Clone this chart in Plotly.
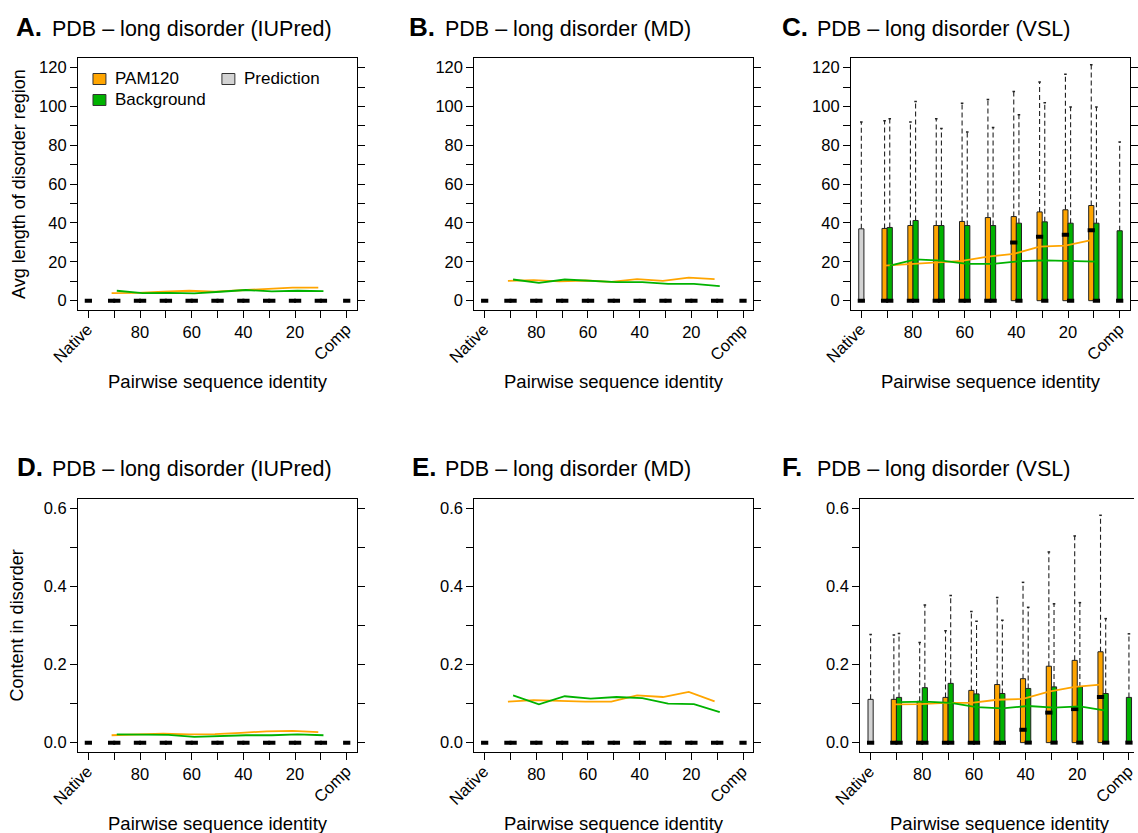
import plotly.graph_objects as go

W, H = 1138, 833
FONT = "Liberation Sans, Arial, Helvetica, sans-serif"
ORANGE = "#FFA500"
GREEN = "#00B200"
GRAY = "#D3D3D3"
EDGE = "#222222"

# ---------------- data ----------------
CATEGORIES = ["Native", "90", "80", "70", "60", "50", "40", "30", "20", "10", "Comp"]
X_TICK_LABELS = ["", "", "80", "", "60", "", "40", "", "20", "", ""]
LEN_TICKS = [0, 10, 20, 30, 40, 50, 60, 70, 80, 90, 100, 110, 120]
LEN_LABELS = ["0", "", "20", "", "40", "", "60", "", "80", "", "100", "", "120"]
FRAC_TICKS = [0.0, 0.1, 0.2, 0.3, 0.4, 0.5, 0.6]
FRAC_LABELS = ["0.0", "", "0.2", "", "0.4", "", "0.6"]

ZEROS9 = [0, 0, 0, 0, 0, 0, 0, 0, 0]

# A: IUPred, avg length
A_PAM_MEAN = [3.9, 4.0, 4.6, 5.1, 4.7, 5.4, 6.2, 6.7, 6.7]
A_BG_MEAN = [5.1, 3.9, 4.0, 3.8, 4.6, 5.5, 4.8, 5.1, 4.9]
# B: MD, avg length
B_PAM_MEAN = [10.2, 10.6, 9.9, 10.4, 9.7, 11.1, 10.2, 11.9, 11.1]
B_BG_MEAN = [10.9, 9.2, 10.9, 10.2, 9.6, 9.6, 8.7, 8.7, 7.5]
# C: VSL, avg length
C_PAM_MEAN = [18.1, 18.8, 19.8, 20.5, 22.7, 24.1, 27.8, 28.3, 31.2]
C_BG_MEAN = [18.1, 21.3, 20.6, 18.9, 18.9, 20.3, 20.8, 20.6, 20.1]
C_PAM_Q3 = [37.2, 38.7, 38.7, 40.8, 42.8, 43.3, 45.7, 46.8, 49.0]
C_PAM_MAX = [92.7, 92.0, 93.7, 101.7, 103.6, 107.7, 112.6, 116.6, 121.5]
C_PAM_MED = [0, 0, 0, 0, 0, 30.0, 32.9, 34.0, 36.3]
C_BG_Q3 = [37.7, 41.3, 38.7, 38.7, 38.7, 39.9, 40.6, 39.9, 39.9]
C_BG_MAX = [93.7, 102.6, 88.7, 86.9, 89.2, 95.7, 101.9, 99.7, 99.7]
C_BG_MED = [0, 0, 0, 0, 0, 0, 0, 0, 0]
C_NATIVE = [37.0, 92.0, 0]   # q3, max, median
C_COMP = [36.0, 81.7, 0]
# D: IUPred, content
D_PAM_MEAN = [0.019, 0.021, 0.023, 0.021, 0.022, 0.025, 0.029, 0.030, 0.027]
D_BG_MEAN = [0.021, 0.021, 0.020, 0.015, 0.017, 0.019, 0.019, 0.021, 0.019]
# E: MD, content
E_PAM_MEAN = [0.105, 0.109, 0.107, 0.105, 0.105, 0.121, 0.117, 0.130, 0.106]
E_BG_MEAN = [0.121, 0.098, 0.119, 0.113, 0.117, 0.114, 0.100, 0.099, 0.078]
# F: VSL, content
F_PAM_MEAN = [0.098, 0.099, 0.102, 0.102, 0.110, 0.112, 0.131, 0.143, 0.149]
F_BG_MEAN = [0.104, 0.105, 0.102, 0.091, 0.088, 0.094, 0.090, 0.093, 0.082]
F_PAM_Q3 = [0.111, 0.106, 0.116, 0.134, 0.149, 0.164, 0.196, 0.211, 0.233]
F_PAM_MAX = [0.276, 0.257, 0.287, 0.336, 0.372, 0.411, 0.489, 0.530, 0.583]
F_PAM_MED = [0, 0, 0, 0, 0, 0.033, 0.077, 0.086, 0.117]
F_BG_Q3 = [0.116, 0.141, 0.152, 0.125, 0.126, 0.139, 0.143, 0.143, 0.126]
F_BG_MAX = [0.280, 0.353, 0.377, 0.311, 0.314, 0.347, 0.356, 0.359, 0.318]
F_BG_MED = [0, 0, 0, 0, 0, 0, 0, 0, 0]
F_NATIVE = [0.111, 0.277, 0]
F_COMP = [0.116, 0.279, 0]

PANELS = [
    dict(letter="A.", title="PDB \u2013 long disorder (IUPred)", kind="len",
         pam_mean=A_PAM_MEAN, bg_mean=A_BG_MEAN,
         pam_q3=ZEROS9, pam_max=ZEROS9, pam_med=ZEROS9,
         bg_q3=ZEROS9, bg_max=ZEROS9, bg_med=ZEROS9,
         native=[0, 0, 0], comp=[0, 0, 0]),
    dict(letter="B.", title="PDB \u2013 long disorder (MD)", kind="len",
         pam_mean=B_PAM_MEAN, bg_mean=B_BG_MEAN,
         pam_q3=ZEROS9, pam_max=ZEROS9, pam_med=ZEROS9,
         bg_q3=ZEROS9, bg_max=ZEROS9, bg_med=ZEROS9,
         native=[0, 0, 0], comp=[0, 0, 0]),
    dict(letter="C.", title="PDB \u2013 long disorder (VSL)", kind="len",
         pam_mean=C_PAM_MEAN, bg_mean=C_BG_MEAN,
         pam_q3=C_PAM_Q3, pam_max=C_PAM_MAX, pam_med=C_PAM_MED,
         bg_q3=C_BG_Q3, bg_max=C_BG_MAX, bg_med=C_BG_MED,
         native=C_NATIVE, comp=C_COMP),
    dict(letter="D.", title="PDB \u2013 long disorder (IUPred)", kind="frac",
         pam_mean=D_PAM_MEAN, bg_mean=D_BG_MEAN,
         pam_q3=ZEROS9, pam_max=ZEROS9, pam_med=ZEROS9,
         bg_q3=ZEROS9, bg_max=ZEROS9, bg_med=ZEROS9,
         native=[0, 0, 0], comp=[0, 0, 0]),
    dict(letter="E.", title="PDB \u2013 long disorder (MD)", kind="frac",
         pam_mean=E_PAM_MEAN, bg_mean=E_BG_MEAN,
         pam_q3=ZEROS9, pam_max=ZEROS9, pam_med=ZEROS9,
         bg_q3=ZEROS9, bg_max=ZEROS9, bg_med=ZEROS9,
         native=[0, 0, 0], comp=[0, 0, 0]),
    dict(letter="F.", title="PDB \u2013 long disorder (VSL)", kind="frac",
         pam_mean=F_PAM_MEAN, bg_mean=F_BG_MEAN,
         pam_q3=F_PAM_Q3, pam_max=F_PAM_MAX, pam_med=F_PAM_MED,
         bg_q3=F_BG_Q3, bg_max=F_BG_MAX, bg_med=F_BG_MED,
         native=F_NATIVE, comp=F_COMP),
]

# ---------------- layout geometry (pixels) ----------------
PX_PER_UNIT = 280 / 10.8
# (left px, right px, top px, bottom px, letter x, title x, title baseline)
GEOM = [
    (78.3, 358.3, 58.3, 310.0, 14, 50, 35),
    (476.0, 756.0, 58.3, 310.0, 408, 445, 35),
    (854.0, 1134.0, 58.3, 310.0, 783, 818, 35),
    (78.3, 358.3, 499.3, 752.0, 15, 50, 475),
    (476.0, 756.0, 499.3, 752.0, 411, 445, 475),
    (863.3, 1138.0, 499.3, 752.0, 783, 818, 475),
]

BOX_W = 0.2
OFF = 0.1
TICK_SIZE = 16.5
AXT_SIZE = 18.5

fig = go.Figure()
annotations = []
shapes = []


def px_x(p):
    return p / W


def px_y(p):
    return 1 - p / H


for k, (panel, g) in enumerate(zip(PANELS, GEOM), start=1):
    xa = "x" if k == 1 else f"x{k}"
    ya = "y" if k == 1 else f"y{k}"
    left, right, top, bottom, lx, tx, tb = g
    xmin = -0.4
    xmax = xmin + (right - left) / PX_PER_UNIT
    if panel["kind"] == "len":
        yr = [-4.8, 124.8]
        yt, yl = LEN_TICKS, LEN_LABELS
    else:
        yr = [-0.024, 0.624]
        yt, yl = FRAC_TICKS, FRAC_LABELS

    idx = list(range(1, 10))
    boxes = []
    nq3, nmax, nmed = panel["native"]
    boxes.append((0, nq3, nmax, nmed, GRAY))
    for i, j in enumerate(idx):
        boxes.append((j - OFF, panel["pam_q3"][i], panel["pam_max"][i], panel["pam_med"][i], ORANGE))
        boxes.append((j + OFF, panel["bg_q3"][i], panel["bg_max"][i], panel["bg_med"][i], GREEN))
    cq3, cmax, cmed = panel["comp"]
    boxes.append((10, cq3, cmax, cmed, GREEN))

    # whiskers (dashed) and staples
    wx, wy, sx, sy = [], [], [], []
    for (c, q3, mx, med, col) in boxes:
        if mx > q3:
            wx += [c, c, None]
            wy += [q3, mx, None]
            sx += [c - 0.05, c + 0.05, None]
            sy += [mx, mx, None]
    if wx:
        fig.add_trace(go.Scatter(x=wx, y=wy, mode="lines", xaxis=xa, yaxis=ya,
                                 line=dict(color="#222222", width=1.1, dash="5px,3px"),
                                 hoverinfo="skip", showlegend=False))
        fig.add_trace(go.Scatter(x=sx, y=sy, mode="lines", xaxis=xa, yaxis=ya,
                                 line=dict(color="#222222", width=1.5),
                                 hoverinfo="skip", showlegend=False))
    # box bodies
    for col in [GRAY, ORANGE, GREEN]:
        bx = [b[0] for b in boxes if b[4] == col and b[1] > 0]
        by = [b[1] for b in boxes if b[4] == col and b[1] > 0]
        if bx:
            fig.add_trace(go.Bar(x=bx, y=by, base=0, width=BOX_W, xaxis=xa, yaxis=ya,
                                 marker=dict(color=col, line=dict(color=EDGE, width=1)),
                                 hoverinfo="skip", showlegend=False))
    # medians
    mx_, my_ = [], []
    for (c, q3, mx, med, col) in boxes:
        mx_ += [c - 0.14, c + 0.14, None]
        my_ += [med, med, None]
    fig.add_trace(go.Scatter(x=mx_, y=my_, mode="lines", xaxis=xa, yaxis=ya,
                             line=dict(color="black", width=4),
                             hoverinfo="skip", showlegend=False))
    # mean lines
    fig.add_trace(go.Scatter(x=[j - OFF for j in idx], y=panel["pam_mean"], mode="lines",
                             xaxis=xa, yaxis=ya, line=dict(color=ORANGE, width=1.8),
                             hoverinfo="skip", showlegend=False))
    fig.add_trace(go.Scatter(x=[j + OFF for j in idx], y=panel["bg_mean"], mode="lines",
                             xaxis=xa, yaxis=ya, line=dict(color=GREEN, width=1.8),
                             hoverinfo="skip", showlegend=False))

    xkey = "xaxis" if k == 1 else f"xaxis{k}"
    ykey = "yaxis" if k == 1 else f"yaxis{k}"
    fig.layout[xkey] = dict(domain=[px_x(left), min(1.0, px_x(right))], range=[xmin, xmax],
                            anchor=ya, tickmode="array", tickvals=list(range(11)),
                            ticktext=X_TICK_LABELS, ticks="outside", ticklen=7,
                            tickwidth=1, tickcolor="black", showline=True, linecolor="black",
                            linewidth=1.2, mirror=True, showgrid=False, zeroline=False,
                            tickfont=dict(family=FONT, size=TICK_SIZE, color="black"),
                            fixedrange=True)
    fig.layout[ykey] = dict(domain=[px_y(bottom), px_y(top)], range=yr, anchor=xa,
                            tickmode="array", tickvals=yt, ticktext=yl, ticks="outside",
                            ticklen=7, tickwidth=1, tickcolor="black", showline=True,
                            linecolor="black", linewidth=1.2,
                            mirror=(False if k == 6 else "ticks"),
                            showgrid=False, zeroline=False,
                            tickfont=dict(family=FONT, size=TICK_SIZE, color="black"),
                            fixedrange=True)

    # rotated Native / Comp labels (paper coords so they survive outside the x range)
    for xv, txt in [(0, "Native"), (10, "Comp")]:
        xp = left + (xv - xmin + 0.38) * PX_PER_UNIT
        annotations.append(dict(x=px_x(xp), y=px_y(bottom + 7), xref="paper", yref="paper",
                                text=txt, showarrow=False, textangle=-45,
                                xanchor="right", yanchor="top",
                                font=dict(family=FONT, size=TICK_SIZE, color="black")))
    # x title
    annotations.append(dict(x=px_x(left + 140), y=px_y(bottom + 71), xref="paper", yref="paper",
                            text="Pairwise sequence identity", showarrow=False,
                            xanchor="center", yanchor="middle",
                            font=dict(family=FONT, size=AXT_SIZE, color="black")))
    # panel titles
    annotations.append(dict(x=px_x(lx), y=px_y(tb + 9), xref="paper", yref="paper",
                            text="<b>" + panel["letter"] + "</b>", showarrow=False,
                            xanchor="left", yanchor="bottom",
                            font=dict(family=FONT, size=26, color="black")))
    annotations.append(dict(x=px_x(tx), y=px_y(tb + 8), xref="paper", yref="paper",
                            text=panel["title"], showarrow=False,
                            xanchor="left", yanchor="bottom",
                            font=dict(family=FONT, size=21.5, color="black")))

# y titles
annotations.append(dict(x=px_x(19), y=px_y(184), xref="paper", yref="paper",
                        text="Avg length of disorder region", showarrow=False, textangle=-90,
                        xanchor="center", yanchor="middle",
                        font=dict(family=FONT, size=AXT_SIZE - 0.5, color="black")))
annotations.append(dict(x=px_x(17), y=px_y(625.5), xref="paper", yref="paper",
                        text="Content in disorder", showarrow=False, textangle=-90,
                        xanchor="center", yanchor="middle",
                        font=dict(family=FONT, size=AXT_SIZE - 0.5, color="black")))

# legend in panel A
LEGEND_ITEMS = [("PAM120", ORANGE, 93.3, 79), ("Background", GREEN, 93.3, 100),
                ("Prediction", GRAY, 222.7, 79)]
for name, col, x0, yc in LEGEND_ITEMS:
    shapes.append(dict(type="rect", xref="paper", yref="paper",
                       x0=px_x(x0), x1=px_x(x0 + 13), y0=px_y(yc + 5.5), y1=px_y(yc - 5.5),
                       fillcolor=col, line=dict(color="#333333", width=1)))
    annotations.append(dict(x=px_x(x0 + 20), y=px_y(yc), xref="paper", yref="paper",
                            text=name, showarrow=False, xanchor="left", yanchor="middle",
                            font=dict(family=FONT, size=17, color="black")))

fig.update_layout(width=W, height=H, margin=dict(l=0, r=0, t=0, b=0),
                  paper_bgcolor="white", plot_bgcolor="white", barmode="overlay",
                  showlegend=False, annotations=annotations, shapes=shapes,
                  font=dict(family=FONT, color="black"))

fig.write_html("out.html", config={"displayModeBar": False},
               post_script="document.body.style.margin='0';document.body.style.overflow='hidden';")
